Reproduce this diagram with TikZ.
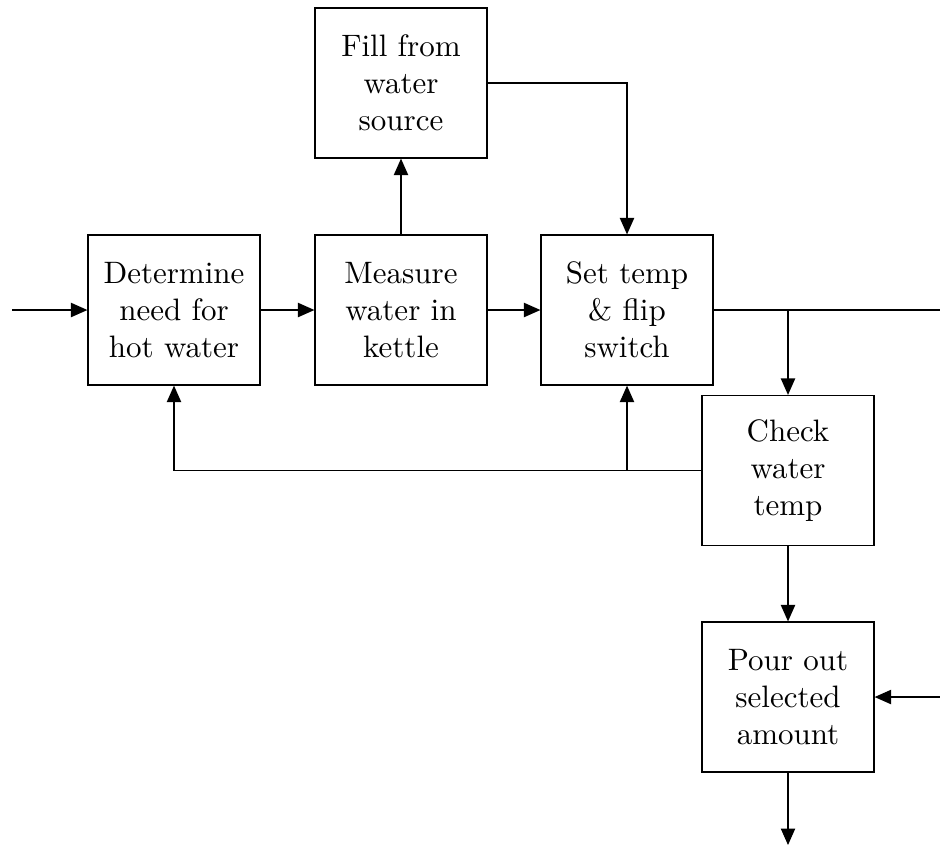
\documentclass[tikz,border=0pt]{standalone}
\usetikzlibrary{arrows.meta}
\begin{document}
\begin{tikzpicture}[x=0.3226pt, y=-0.3226pt,
  stepbox/.style={draw, line width=0.4pt, rectangle, inner sep=0pt,
    minimum width=55.49pt, minimum height=48.39pt, align=center},
  flow/.style={line width=0.4pt, -{Triangle[length=5.3pt,width=4.6pt]}},
  plain/.style={line width=0.4pt}]
  \useasboundingbox (0,0) rectangle (940,850);

  % process steps
  \node[stepbox] (fill)  at (401,83)    {Fill from\\water\\source};
  \node[stepbox] (det)   at (174,310)   {Determine\\need for\\hot water};
  \node[stepbox] (meas)  at (401,310)   {Measure\\water in\\kettle};
  \node[stepbox] (set)   at (627,310)   {Set temp\\\& flip\\switch};
  \node[stepbox] (check) at (788,470.5) {Check\\water\\temp};
  \node[stepbox] (pour)  at (788,697)   {Pour out\\selected\\amount};

  % free ends and junctions
  \coordinate (inL)  at (12,310);
  \coordinate (outR) at (940,310);
  \coordinate (j1)   at (788,310);
  \coordinate (j2)   at (627,470.5);
  \coordinate (inR)  at (940,697);
  \coordinate (outB) at (788,845);

  % connectors
  \draw[flow] (inL) -- (det);
  \draw[flow] (det) -- (meas);
  \draw[flow] (meas) -- (set);
  \draw[flow] (meas) -- (fill);
  \draw[flow] (fill.east) -| (set.north);
  \draw[plain] (set.east) -- (outR);
  \draw[flow] (j1) -- (check.north);
  \draw[flow] (check.west) -| (det.south);
  \draw[flow] (j2) -- (set.south);
  \draw[flow] (check) -- (pour);
  \draw[flow] (inR) -- (pour.east);
  \draw[flow] (pour.south) -- (outB);
\end{tikzpicture}
\end{document}
